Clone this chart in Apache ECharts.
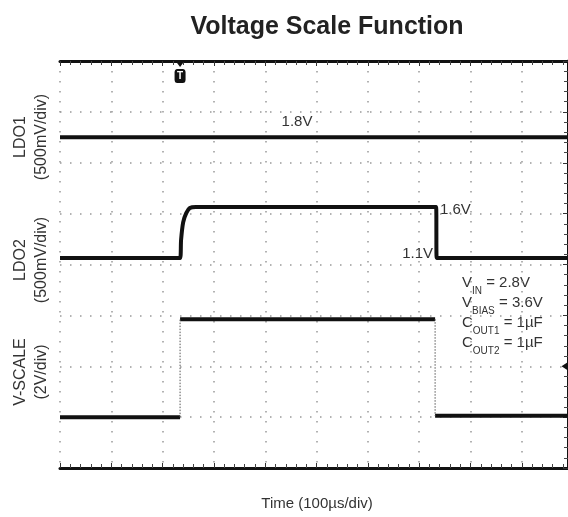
<!DOCTYPE html>
<html>
<head>
<meta charset="utf-8">
<script src="https://cdn.jsdelivr.net/npm/echarts@6/dist/echarts.min.js"></script>
<style>
html, body { margin: 0; padding: 0; background: #fff; }
#chart { width: 568px; height: 517px; }
</style>
</head>
<body>
<div id="chart"></div>
<script>
// time in µs, 100µs per division
const timeMin = 0
const timeMax = 990
const timeStep = 100

const ldo1Time = [0, 990]
const ldo1Volts = [1.8, 1.8]

const ldo2Time = [0, 234, 236, 240, 246, 253, 265, 733, 734, 990]
const ldo2Volts = [1.1, 1.1, 1.28, 1.45, 1.54, 1.59, 1.6, 1.6, 1.1, 1.1]

const vscaleTime = [0, 234, 234, 731, 731, 990]
const vscaleVolts = [0, 0, 3.85, 3.85, 0.05, 0.05]

// per channel: volts per division and where 0V sits (divisions from bottom)
const voltsPerDiv = [0.5, 0.5, 2]
const zeroDiv = [2.9, 1.93, 1]
const divisions = 8

const triggerTime = 234
const triggerLevel = 2 // on V-SCALE

const font = 'Liberation Sans, Arial, sans-serif'

function pairs(t, v) {
  return t.map((x, i) => [x, v[i]])
}

// split a trace into flat parts (thick) and vertical edges (thin)
function splitEdges(t, v) {
  const flat = [[t[0], v[0]]]
  const edges = []
  for (let i = 1; i < t.length; i++) {
    if (t[i] === t[i - 1]) {
      flat.push('-')
      edges.push([t[i - 1], v[i - 1]], [t[i], v[i]], '-')
    }
    flat.push([t[i], v[i]])
  }
  return { flat, edges }
}

const vscale = splitEdges(vscaleTime, vscaleVolts)

const chart = echarts.init(document.getElementById('chart'))

const yAxes = voltsPerDiv.map((vpd, i) => ({
  type: 'value',
  min: -zeroDiv[i] * vpd,
  max: (divisions - zeroDiv[i]) * vpd,
  show: false
}))
// V-SCALE axis draws the left border and horizontal grid
yAxes[2] = {
  type: 'value',
  min: -zeroDiv[2] * voltsPerDiv[2],
  max: (divisions - zeroDiv[2]) * voltsPerDiv[2],
  interval: voltsPerDiv[2],
  axisLine: { show: true, lineStyle: { color: '#111', width: 3 } },
  axisTick: { show: true, inside: true, length: 5, lineStyle: { color: '#333' } },
  minorTick: { show: true, splitNumber: 5, length: 4, lineStyle: { color: '#444' } },
  axisLabel: { show: false },
  splitLine: { show: true, lineStyle: { color: '#999', width: 1.5, type: [1.5, 8.5] } }
}

const borderX = (pos, grid) => ({
  type: 'value',
  position: pos,
  min: timeMin,
  max: timeMax,
  interval: timeStep,
  axisLine: { show: true, onZero: false, lineStyle: { color: '#111', width: 3 } },
  axisTick: { show: true, inside: true, length: 5, lineStyle: { color: '#333' } },
  minorTick: { show: true, splitNumber: 5, length: 4, lineStyle: { color: '#444' } },
  axisLabel: { show: false },
  splitLine: { show: grid, lineStyle: { color: '#999', width: 1.5, type: [1.5, 8.5] } }
})

const traceStyle = { color: '#111', width: 4 }

const option = {
  animation: false,
  backgroundColor: '#fff',
  title: {
    text: 'Voltage Scale Function',
    left: 322,
    top: 10,
    textAlign: 'center',
    textStyle: { fontFamily: font, fontSize: 25, fontWeight: 'bold', color: '#222' }
  },
  grid: { left: 60, top: 61, right: 0, bottom: 49 },
  xAxis: [borderX('bottom', true), borderX('top', false)],
  yAxis: yAxes,
  series: [
    {
      name: 'LDO1',
      type: 'line',
      yAxisIndex: 0,
      data: pairs(ldo1Time, ldo1Volts),
      symbol: 'none',
      lineStyle: traceStyle
    },
    {
      name: 'LDO2',
      type: 'line',
      yAxisIndex: 1,
      data: pairs(ldo2Time, ldo2Volts),
      symbol: 'none',
      smooth: 0.3,
      lineStyle: traceStyle
    },
    {
      name: 'V-SCALE',
      type: 'line',
      yAxisIndex: 2,
      data: vscale.flat,
      symbol: 'none',
      lineStyle: traceStyle,
      markPoint: {
        silent: true,
        data: [
          {
            coord: [triggerTime, yAxes[2].max],
            symbol: 'triangle',
            symbolRotate: 180,
            symbolSize: [9, 6],
            symbolOffset: [0, 3],
            itemStyle: { color: '#111' },
            label: { show: false }
          },
          {
            coord: [triggerTime, yAxes[2].max],
            symbol: 'roundRect',
            symbolSize: [11, 14],
            symbolOffset: [0, 15],
            itemStyle: { color: '#111' },
            label: { show: true, formatter: 'T', color: '#fff', fontSize: 10, fontWeight: 'bold', fontFamily: font }
          },
          {
            coord: [timeMax, triggerLevel],
            symbol: 'triangle',
            symbolRotate: 90,
            symbolSize: [9, 7],
            symbolOffset: [-3, 0],
            itemStyle: { color: '#111' },
            label: { show: false }
          }
        ]
      }
    },
    {
      name: 'V-SCALE edges',
      type: 'line',
      yAxisIndex: 2,
      data: vscale.edges,
      symbol: 'none',
      lineStyle: { color: '#555', width: 1, type: [1.5, 1.5] }
    }
  ],
  graphic: [
    { type: 'text', x: 297, y: 122, style: { text: '1.8V', font: '15px ' + font, fill: '#333', align: 'center', verticalAlign: 'middle' } },
    { type: 'text', x: 440, y: 210, style: { text: '1.6V', font: '15px ' + font, fill: '#333', align: 'left', verticalAlign: 'middle' } },
    { type: 'text', x: 433, y: 254, style: { text: '1.1V', font: '15px ' + font, fill: '#333', align: 'right', verticalAlign: 'middle' } },
    {
      type: 'text', x: 462, y: 273,
      style: {
        text: '{n|V}{s|IN}{n| = 2.8V}\n{n|V}{s|BIAS}{n| = 3.6V}\n{n|C}{s|OUT1}{n| = 1µF}\n{n|C}{s|OUT2}{n| = 1µF}',
        fill: '#333',
        rich: {
          n: { fontSize: 15, fontFamily: font, lineHeight: 20, fill: '#333' },
          s: { fontSize: 10, fontFamily: font, lineHeight: 20, verticalAlign: 'bottom', padding: [0, 0, -3, 0], fill: '#333' }
        }
      }
    },
    { type: 'text', x: 317, y: 504, style: { text: 'Time (100µs/div)', font: '15px ' + font, fill: '#333', align: 'center', verticalAlign: 'middle' } },
    { type: 'text', x: 21, y: 137, rotation: Math.PI / 2, style: { text: 'LDO1', font: '16px ' + font, fill: '#333', align: 'center', verticalAlign: 'middle' } },
    { type: 'text', x: 42, y: 137, rotation: Math.PI / 2, style: { text: '(500mV/div)', font: '16px ' + font, fill: '#333', align: 'center', verticalAlign: 'middle' } },
    { type: 'text', x: 21, y: 260, rotation: Math.PI / 2, style: { text: 'LDO2', font: '16px ' + font, fill: '#333', align: 'center', verticalAlign: 'middle' } },
    { type: 'text', x: 42, y: 260, rotation: Math.PI / 2, style: { text: '(500mV/div)', font: '16px ' + font, fill: '#333', align: 'center', verticalAlign: 'middle' } },
    { type: 'text', x: 21, y: 372, rotation: Math.PI / 2, style: { text: 'V-SCALE', font: '16px ' + font, fill: '#333', align: 'center', verticalAlign: 'middle' } },
    { type: 'text', x: 42, y: 372, rotation: Math.PI / 2, style: { text: '(2V/div)', font: '16px ' + font, fill: '#333', align: 'center', verticalAlign: 'middle' } }
  ]
}

chart.setOption(option)
</script>
</body>
</html>
